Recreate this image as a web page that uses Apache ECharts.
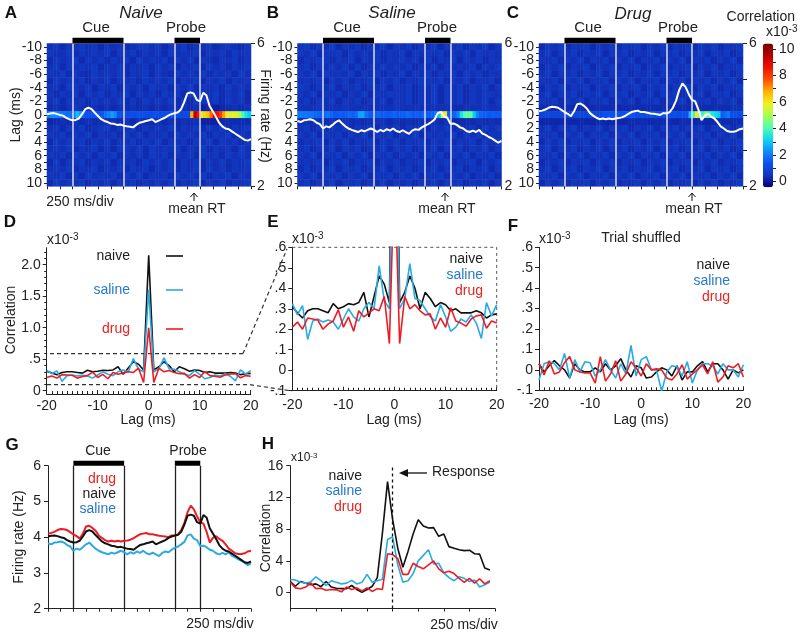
<!DOCTYPE html>
<html><head><meta charset="utf-8">
<style>html,body{margin:0;background:#fff}#c{width:800px;height:633px}</style>
<script src="https://cdn.jsdelivr.net/npm/echarts@6/dist/echarts.min.js"></script></head>
<body><div id="c"></div><script>
const lagLabels=[-10,-9,-8,-7,-6,-5,-4,-3,-2,-1,0,1,2,3,4,5,6,7,8,9,10];
const lagLabelsA=[-8,-4,0,4,8];
const lagLabelsB=[-10,-6,-2,2,6,10];
const lagAxis=[-20,-19,-18,-17,-16,-15,-14,-13,-12,-11,-10,-9,-8,-7,-6,-5,-4,-3,-2,-1,0,1,2,3,4,5,6,7,8,9,10,11,12,13,14,15,16,17,18,19,20];
const cueLines=[2,6], probeLines=[10,12];
// firing rate (Hz) every quarter division
const rateNaive=[4.02,4.04,4.05,4.03,4.00,3.98,3.92,3.88,3.85,3.86,3.90,4.02,4.16,4.20,4.16,4.06,3.97,3.88,3.83,3.80,3.76,3.75,3.72,3.73,3.70,3.68,3.67,3.65,3.72,3.78,3.80,3.83,3.85,3.88,3.80,3.84,3.88,3.92,3.98,4.02,4.05,4.07,4.15,4.35,4.60,4.63,4.60,4.42,4.38,4.62,4.55,4.25,4.10,3.95,3.78,3.68,3.62,3.60,3.54,3.48,3.42,3.36,3.30,3.28,3.32];
const rateSaline=[3.83,3.80,3.85,3.86,3.88,3.85,3.78,3.74,3.62,3.68,3.65,3.72,3.80,3.85,3.76,3.68,3.62,3.58,3.55,3.52,3.57,3.54,3.58,3.62,3.58,3.52,3.58,3.54,3.60,3.56,3.62,3.55,3.52,3.57,3.52,3.47,3.56,3.60,3.58,3.65,3.70,3.74,3.80,3.87,4.05,4.08,3.96,3.92,3.75,3.76,3.72,3.65,3.62,3.55,3.52,3.56,3.52,3.58,3.48,3.44,3.38,3.34,3.28,3.22,3.27];
const rateDrug=[4.10,4.12,4.15,4.20,4.23,4.22,4.20,4.14,4.08,4.03,3.96,4.10,4.30,4.32,4.26,4.18,4.05,3.98,3.92,3.88,3.90,3.88,3.90,3.88,3.90,3.91,3.93,3.97,4.03,4.08,4.10,4.12,4.08,4.08,4.06,4.04,4.03,4.02,4.00,4.05,4.04,4.08,4.20,4.40,4.70,4.88,4.78,4.58,4.42,4.38,4.15,3.85,3.98,4.03,3.95,3.90,3.80,3.68,3.62,3.55,3.53,3.53,3.55,3.60,3.62];
// lag-zero correlation row (x10^-3) per time bin
const zeroNaive=[2.0,2.2,2.2,2.1,2.0,1.9,1.8,1.8,2.0,2.9,2.5,1.6,1.4,1.3,1.4,1.3,1.4,1.5,1.9,2.1,2.5,2.2,1.4,1.3,1.2,1.2,1.3,1.2,1.3,1.2,1.3,1.2,1.2,1.3,1.2,1.2,1.3,1.2,1.2,1.3,1.2,1.1,1.1,1.1,1.2,6.8,9.6,8.6,6.0,6.3,6.5,7.4,8.8,8.6,8.0,7.0,6.0,5.4,5.9,5.6,5.0,4.0,3.4,3.0];
const zeroSaline=[1.9,2.0,2.0,1.9,1.9,1.7,1.7,1.6,1.7,1.9,1.7,1.5,1.5,1.6,1.5,1.6,1.7,1.6,1.8,2.5,2.6,1.9,1.6,1.5,1.6,1.7,1.5,1.6,1.5,1.6,1.7,1.5,1.6,1.6,1.8,1.7,1.5,1.6,1.5,1.7,1.6,1.6,1.7,2.0,3.0,5.4,6.0,1.6,1.5,1.7,2.2,3.4,4.1,4.3,4.2,3.0,2.2,1.7,1.6,1.6,1.5,1.6,1.5,1.5];
const zeroDrug=[1.0,1.0,1.0,1.1,1.0,1.0,1.0,1.1,1.0,1.0,1.0,1.0,1.1,1.0,1.0,1.0,1.1,1.0,1.0,1.1,1.3,1.4,1.4,1.3,1.4,1.3,1.3,1.4,1.3,1.3,1.2,1.2,1.3,1.2,1.2,1.3,1.2,1.2,1.2,1.3,1.2,1.2,1.3,1.2,1.2,1.3,1.3,2.8,3.8,6.0,4.2,3.8,4.6,4.0,3.5,3.2,3.0,1.6,1.8,2.0,1.3,1.3,1.2,1.2];
// off-zero cells, tenths of x10^-3, lags -10..-1 then 1..10
const offNaive=["45354645354534564535463545345435","54463545463546354536454635453645","35456354536453645463546354354635","46354546354635453645354636453546","54635436454635463543645463545364","36454635463545364546354635463545","45365463546354536453646354536454","53546354635463545364536454635463","46354536454635364546353654636453","34345434343434343434343412123434",
"23434343434343433434343411123333","45354634563546354546354635463546","54635463545364635453645463546354","36454635463546354635453646354535","45463546353654636454635463545364","54536453646354536463545364536454","36354635463545364546354635463546","45463546354636453546354636453545","54635364546354635453645463546354","36454635463546354546354635463545"];
const offSaline=["46354635463546354635463546354635","54635463645463546354546354636454","35465354635463546453635463546354","46354546363546454635463545463546","54636454635463546354635453646354","45463546354635463546546354635463","65354635463546354635463546354635","54635463546354654635463546354654","46354635463546354635463546354635","44454445444444454444444433444544",
"34343434343444343434343423334343","46354546354635463546354635453646","54635463546354635463545463546354","35463546354635463546354635463545","46354635463546354635463546354635","54635463546354635453646354635463","45463546354635463546354635463546","36354635463546354635463546354635","54635463546354635463546354635463","46354635463546354635463546354635"];
const offDrug=["35463546354635463546354635463546","46354635463546354635463546354635","54635463546354635463546354635463","35463546354635463546354635463546","46354635463546354635463546354635","54635463546354635463546354635463","35463546354635463546354635463546","46354635463546354635463546354635","54635463546354635463546354635463","33333332333323333333333323333344",
"22222222232222333233323322223333","46354635463546354635463546354635","54635463546354635463546354635463","35463546354635463546354635463546","46354635463546354635463546354635","54635463546354635463546354635463","35463546354635463546354635463546","46354635463546354635463546354635","54635463546354635463546354635463","35463546354635463546354635463546"];
// correlograms (x10^-3) by lag
const corrNaive=[.31,.28,.255,.29,.30,.30,.29,.28,.325,.30,.31,.325,.32,.33,.38,.26,.36,.46,.42,.33,2.15,.33,.38,.46,.40,.30,.38,.35,.31,.33,.32,.29,.30,.28,.28,.28,.29,.28,.255,.27,.275];
const corrSaline=[.325,.27,.315,.15,.24,.25,.235,.245,.235,.20,.25,.30,.26,.24,.30,.33,.30,.51,.34,.30,1.6,.30,.35,.52,.35,.34,.30,.26,.24,.32,.26,.19,.21,.25,.235,.27,.23,.155,.33,.265,.32];
const corrDrug=[.21,.235,.20,.255,.25,.245,.20,.225,.24,.295,.21,.26,.19,.29,.26,.28,.30,.29,.36,.13,1.0,.13,.36,.30,.32,.29,.27,.275,.20,.255,.21,.305,.24,.23,.215,.25,.265,.27,.205,.24,.23];
const shufNaive=[.03,-.01,.02,.045,.02,0,-.04,.03,0,-.01,-.01,.01,-.01,.03,0,.02,.055,0,-.035,.02,.01,-.04,-.035,-.01,.01,0,-.03,.02,-.05,-.01,-.01,.02,.04,-.01,.03,.03,0,-.045,0,-.015,0];
const shufSaline=[-.05,.03,.04,.03,0,.08,-.04,.05,-.01,.04,.035,-.03,0,.05,0,-.04,.03,-.02,.12,-.03,.05,.065,0,0,-.105,-.01,.02,.015,-.03,.04,-.065,0,.03,.03,.02,-.02,.03,0,0,-.035,.025];
const shufDrug=[.03,-.025,.045,-.02,-.01,.035,.065,0,-.01,-.015,-.015,-.065,.065,-.055,-.02,.045,-.055,-.02,.04,.01,-.03,.03,0,.005,0,-.04,-.05,-.02,.025,-.045,-.02,0,.025,-.02,.04,-.06,-.035,.02,.01,.03,-.035];
// response-aligned lag-zero correlation (x10^-3), every 0.2 division
const respNaive=[1.4,.8,1.4,1.2,1.0,1.1,.75,1.4,.7,.55,.5,.5,.9,.4,.05,.4,.8,1.9,7.5,14.0,9.2,5.6,3.2,5.2,7.4,9.2,8.4,8.15,8.2,7.1,7.4,5.8,5.6,5.4,5.3,5.35,4.9,4.85,3.1,2.85];
const respSaline=[1.65,1.6,1.3,1.2,1.35,2.0,1.5,.9,1.5,1.3,1.1,1.2,1.55,1.1,1.3,2.3,1.3,1.5,1.7,6.7,7.0,3.5,1.3,1.5,2.4,4.0,4.7,5.4,3.6,3.7,2.5,1.9,1.5,2.0,1.8,1.4,1.6,.7,1.0,1.35];
const respDrug=[1.3,.6,.5,.7,1.2,.5,.55,.3,.4,.35,.1,.7,.4,.6,.2,.6,.15,.5,.4,4.9,4.8,4.3,2.3,2.3,3.7,3.3,3.0,3.5,4.0,3.0,2.5,2.7,2.4,1.8,1.3,1.8,1.2,1.75,1.1,1.5];
const ticksD=[".5","1.0","1.5","2.0"];
const jet=['#00007f','#1236bc','#0a50f0','#108cff','#10d8f0','#50ffb0','#a8ff50','#f0f020','#ffb000','#ff5000','#f01000','#b80000','#7a0000'];

const FF="'Liberation Sans',Arial,sans-serif", INK='#222', BLK='#111', BLU='#29abe2', RED='#ed1c24', TBLU='#2878c8', TRED='#ee2020';
const lab=(o={})=>Object.assign({fontFamily:FF,fontSize:14,color:INK},o);
const line=(c='#222',w=1)=>({show:true,onZero:false,lineStyle:{color:c,width:w}});
const grids=[],xAxes=[],yAxes=[],series=[],G=[];
function addGrid(l,t,w,h){grids.push({left:l,top:t,width:w,height:h,containLabel:false,show:false});return grids.length-1}
function addX(o){xAxes.push(Object.assign({splitLine:{show:false}},o));return xAxes.length-1}
function addY(o){yAxes.push(Object.assign({splitLine:{show:false}},o));return yAxes.length-1}
function stim(xi,yi,y,color,w){[cueLines,probeLines].forEach(s=>series.push({type:'line',xAxisIndex:xi,yAxisIndex:yi,data:s.map(v=>[v,y]),clip:false,symbol:'none',silent:true,z:6,lineStyle:{color:'#000',width:w}}))}
function rateSeries(xi,yi,data,color,w){return {type:'line',xAxisIndex:xi,yAxisIndex:yi,data:data.map((v,i)=>[i*.25,v]),symbol:'none',silent:true,z:5,lineStyle:{color,width:w}}}
function vlines(vals,color,w,type){return {silent:true,symbol:'none',label:{show:false},animation:false,lineStyle:{color,width:w,type:type||'solid'},data:vals.map(v=>({xAxis:v}))}}
const binCats=zeroNaive.map((_,i)=>i);
function heatPanel(left,rate,zero,off,rightTicks){
  const top=43.5,w=204,h=142.8;
  const g=addGrid(left,top,w,h);
  const xh=addX({gridIndex:g,type:'category',data:binCats,show:false});
  const yh=addY({gridIndex:g,type:'category',data:lagLabels,inverse:true,show:false});
  const cells=[];
  lagLabels.forEach((lag,r)=>{binCats.forEach(c=>{
    let v; if(lag===0) v=zero[c]; else {const row=off[r<10?r:r-1]; v=+row[c>>1]/10;}
    cells.push([c,r,v]);
  })});
  series.push({type:'heatmap',xAxisIndex:xh,yAxisIndex:yh,data:cells,silent:true,progressive:0,emphasis:{disabled:true},itemStyle:{borderWidth:0}});
  const g2=addGrid(left,top,w,h);
  const xo=addX({gridIndex:g2,type:'value',min:0,max:16,interval:1,axisLine:{show:false,onZero:false},axisTick:{length:3,lineStyle:{color:INK}},axisLabel:{show:false}});
  const yo=addY({gridIndex:g2,type:'value',min:2,max:6,interval:1,position:'right',axisLine:{show:false,onZero:false},
    axisTick:{show:rightTicks,length:4,lineStyle:{color:INK}},axisLabel:lab({margin:rightTicks?6:3,customValues:[2,6]})});
  const yl=addY({gridIndex:g2,type:'value',min:-10.5,max:10.5,inverse:true,position:'left',axisLine:{show:false,onZero:false},
    axisTick:{customValues:lagLabels,length:3,lineStyle:{color:INK}},axisLabel:lab({margin:5,customValues:lagLabelsA})});
  const ye=addY({gridIndex:g2,type:'value',min:-10.5,max:10.5,inverse:true,position:'left',axisLine:{show:false,onZero:false},
    axisTick:{show:false},axisLabel:lab({margin:5,customValues:lagLabelsB})});
  series.push({type:'line',xAxisIndex:xo,yAxisIndex:yl,data:[]});
  series.push({type:'line',xAxisIndex:xo,yAxisIndex:ye,data:[]});
  const s=rateSeries(xo,yo,rate,'#fff',2);
  s.markLine=vlines(cueLines.concat(probeLines),'#d8dcf2',1.5);
  series.push(s);
  stim(xo,yo,6.085,'#000',5.5);
}
heatPanel(47,rateNaive,zeroNaive,offNaive,true);
heatPanel(297.5,rateSaline,zeroSaline,offSaline,false);
heatPanel(539,rateDrug,zeroDrug,offDrug,true);

// colour-scale axis
{const g=addGrid(763,43.5,10,143.8);
 addX({gridIndex:g,type:'value',min:0,max:1,show:false});
 addY({gridIndex:g,type:'value',min:-.43,max:10.4,position:'right',axisLine:{show:false,onZero:false},
   axisTick:{customValues:[0,1,2,3,4,5,6,7,8,9,10],length:3,lineStyle:{color:INK}},
   axisLabel:lab({margin:6,customValues:[0,2,4,6,8,10]})});
 series.push({type:'line',xAxisIndex:xAxes.length-1,yAxisIndex:yAxes.length-1,data:[]});}

function lagX(g,bottomMargin){return addX({gridIndex:g,type:'value',min:-20,max:20,interval:10,
  axisLine:line(),axisTick:{inside:true,length:4,lineStyle:{color:INK}},
  minorTick:{show:true,splitNumber:10,length:3,lineStyle:{color:INK}},axisLabel:lab({margin:bottomMargin,showMinLabel:true,showMaxLabel:true})})}
function corr(xi,yi,vals,color){series.push({type:'line',xAxisIndex:xi,yAxisIndex:yi,data:vals.map((v,i)=>[lagAxis[i],v]),symbol:'none',silent:true,lineStyle:{color,width:1.6}})}

// D
{const g=addGrid(46.7,247.7,204,146.3);const x=lagX(g,5);
 const y=addY({gridIndex:g,type:'value',min:-.052,max:2.27,position:'left',axisLine:line(),
   axisTick:{customValues:[0,.5,1,1.5,2],length:4,lineStyle:{color:INK}},
   axisLabel:lab({margin:6,customValues:[0,.5,1,1.5,2],formatter:v=>v===0?'0':ticksD[Math.round(v*2)-1]})});
 const y2=addY({gridIndex:g,type:'value',min:-.052,max:2.27,position:'left',axisLine:{show:false,onZero:false},axisLabel:{show:false},
   axisTick:{customValues:[.1,.2,.3,.4,.6,.7,.8,.9,1.1,1.2,1.3,1.4,1.6,1.7,1.8,1.9,2.1,2.2],length:2.5,lineStyle:{color:INK}}});
 series.push({type:'line',xAxisIndex:x,yAxisIndex:y2,data:[]});
 corr(x,y,corrNaive,BLK);corr(x,y,corrSaline,BLU);corr(x,y,corrDrug,RED);}
// E
{const g=addGrid(292.3,247.3,204.4,143.4);const x=lagX(g,7);
 const y=addY({gridIndex:g,type:'value',min:-.1,max:.6,interval:.1,axisLine:line(),axisTick:{length:4,lineStyle:{color:INK}},
   axisLabel:lab({margin:6,formatter:v=>{const n=Math.round(v*10);return n===0?'0':(n<0?'-.':'.')+Math.abs(n)}})});
 series.push({type:'line',xAxisIndex:x,yAxisIndex:y,data:[[-20,.6],[20,.6],[20,-.1]],symbol:'none',silent:true,clip:false,lineStyle:{color:'#555',width:1,type:[3,3]}});
 corr(x,y,corrNaive,BLK);corr(x,y,corrSaline,BLU);corr(x,y,corrDrug,RED);}
// F
{const g=addGrid(539,247.3,204.4,143);const x=lagX(g,7);
 const y=addY({gridIndex:g,type:'value',min:-.1,max:.6,interval:.1,axisLine:line(),axisTick:{length:4,lineStyle:{color:INK}},
   axisLabel:lab({margin:6,formatter:v=>{const n=Math.round(v*10);return n===0?'0':(n<0?'-.':'.')+Math.abs(n)}})});
 corr(x,y,shufNaive,BLK);corr(x,y,shufSaline,BLU);corr(x,y,shufDrug,RED);}
// G
{const g=addGrid(48,465.7,203,143);
 const x=addX({gridIndex:g,type:'value',min:0,max:16,interval:1,axisLine:line(),axisTick:{length:3,lineStyle:{color:INK}},axisLabel:{show:false}});
 const y=addY({gridIndex:g,type:'value',min:2,max:6,interval:1,axisLine:line(),axisTick:{length:4,lineStyle:{color:INK}},axisLabel:lab({margin:7})});
 const s=rateSeries(x,y,rateSaline,BLU,2);s.markLine=vlines(cueLines.concat(probeLines),'#222',1.3);series.push(s);
 series.push(rateSeries(x,y,rateDrug,RED,2));series.push(rateSeries(x,y,rateNaive,BLK,2));
 stim(x,y,6.07,'#000',5);}
// H
{const g=addGrid(290.3,465.7,204.7,142.8);
 const x=addX({gridIndex:g,type:'value',min:0,max:8,interval:1,axisLine:line(),axisTick:{length:3,lineStyle:{color:INK}},axisLabel:{show:false}});
 const y=addY({gridIndex:g,type:'value',min:-2,max:16,interval:2,axisLine:line(),
   axisTick:{customValues:[0,4,8,12,16],length:4,lineStyle:{color:INK}},axisLabel:lab({margin:7,customValues:[0,4,8,12,16]})});
 const pts=a=>a.map((v,i)=>[i*.2,v]);
 const mk=(a,c)=>({type:'line',xAxisIndex:x,yAxisIndex:y,data:pts(a),symbol:'none',silent:true,lineStyle:{color:c,width:1.6}});
 const s=mk(respNaive,BLK);s.markLine=vlines([4],'#111',1.3,[3,3]);series.push(s);
 series.push(mk(respSaline,BLU));series.push(mk(respDrug,RED));}

// text annotations
function T(text,x,y,o={}){G.push({type:'text',x,y,rotation:o.rot||0,silent:true,z:20,style:{text,align:o.a||'center',verticalAlign:'middle',
  font:(o.i?'italic ':'')+(o.b?'bold ':'')+(o.s||14)+'px '+FF,fill:o.c||INK,rich:o.rich}})}
function X103(x,y,s,a){T('{a|x10}{b|-3}',x,y,{a:a||'left',rich:{a:{fontFamily:FF,fontSize:s||14,fill:INK,color:INK},b:{fontFamily:FF,fontSize:(s||14)-4,fill:INK,color:INK,verticalAlign:'top',padding:[0,0,5,0]}}})}
[['A',11,13],['B',273,13],['C',513,13],['D',10,222],['E',273,222],['F',513,226],['G',12,445],['H',268,444]].forEach(p=>T(p[0],p[1],p[2],{b:1,s:17,c:'#111'}));
T('Naive',141,13,{i:1,s:17});T('Saline',392,13,{i:1,s:17});T('Drug',633,14,{i:1,s:17});
[[96,186],[347,437],[588,678]].forEach(p=>{T('Cue',p[0],28,{s:15});T('Probe',p[1],28,{s:15})});
T('Correlation',795,17,{a:'right'});X103(766,32);
T('Lag (ms)',16,115,{rot:Math.PI/2});T('Firing rate (Hz)',265,116,{rot:-Math.PI/2});
T('250 ms/div',80,202);
[[197,194],[447,445],[694,692]].forEach(p=>{T('mean RT',p[0],209.5);
 G.push({type:'polyline',silent:true,shape:{points:[[p[1],201],[p[1],194]]},style:{stroke:'#111',lineWidth:1,fill:null}});
 G.push({type:'polyline',silent:true,shape:{points:[[p[1]-3.5,197],[p[1],193],[p[1]+3.5,197]]},style:{stroke:'#111',lineWidth:1,fill:null}});});
T('Correlation',11,320,{rot:Math.PI/2});
X103(47,240);X103(292,239);X103(539,239);
[148,394,641].forEach(x=>T('Lag (ms)',x,420));
T('naive',130,256,{a:'right'});T('saline',130,290,{a:'right',c:TBLU});T('drug',130,329,{a:'right',c:TRED});
[[256,BLK],[290,BLU],[329,RED]].forEach(p=>G.push({type:'line',silent:true,shape:{x1:166,y1:p[0],x2:183,y2:p[0]},style:{stroke:p[1],lineWidth:1.6}}));
[[50,353.6,243,353.6],[243,353.6,287,249]].forEach(l=>G.push({type:'line',silent:true,shape:{x1:l[0],y1:l[1],x2:l[2],y2:l[3]},style:{stroke:'#333',lineWidth:1.2,lineDash:[4,3]}}));
[[47,384.7,250,384.7],[250,384.7,292,391]].forEach(l=>G.push({type:'line',silent:true,shape:{x1:l[0],y1:l[1],x2:l[2],y2:l[3]},style:{stroke:'#333',lineWidth:1.2,lineDash:[4,3]}}));
T('naive',483,259,{a:'right'});T('saline',483,275,{a:'right',c:TBLU});T('drug',483,291,{a:'right',c:TRED});
T('Trial shuffled',641,238);
T('naive',730,265,{a:'right'});T('saline',730,281,{a:'right',c:TBLU});T('drug',730,297,{a:'right',c:TRED});
T('Cue',98,451);T('Probe',188,451);
T('drug',116,479,{a:'right',c:TRED});T('naive',116,494,{a:'right'});T('saline',116,509,{a:'right',c:TBLU});
T('Firing rate (Hz)',19,537,{rot:Math.PI/2});T('250 ms/div',220,624);
X103(291,458,12);T('Correlation',266,538,{rot:Math.PI/2});
T('naive',362,476,{a:'right'});T('saline',362,491,{a:'right',c:TBLU});T('drug',362,507,{a:'right',c:TRED});
T('Response',432,472);G[G.length-1].style.align='left';
T('250 ms/div',464,625);
G.push({type:'line',silent:true,shape:{x1:405,y1:473,x2:427,y2:473},style:{stroke:'#111',lineWidth:1.3}});
G.push({type:'polygon',silent:true,shape:{points:[[399,473],[408,469],[408,477]]},style:{fill:'#111'}});

const heatIdx=series.map((s,i)=>s.type==='heatmap'?i:-1).filter(i=>i>=0);
const chart=echarts.init(document.getElementById('c'),null,{renderer:'canvas'});
chart.setOption({animation:false,backgroundColor:'#fff',textStyle:{fontFamily:FF},
 grid:grids,xAxis:xAxes,yAxis:yAxes,series,graphic:G,
 visualMap:{type:'continuous',min:-.43,max:10.4,seriesIndex:heatIdx,inRange:{color:jet},left:763,top:43.5,itemWidth:10,itemHeight:143.8,padding:0,calculable:false,text:null,showLabel:false,realtime:false,hoverLink:false,silent:true}});
</script></body></html>
